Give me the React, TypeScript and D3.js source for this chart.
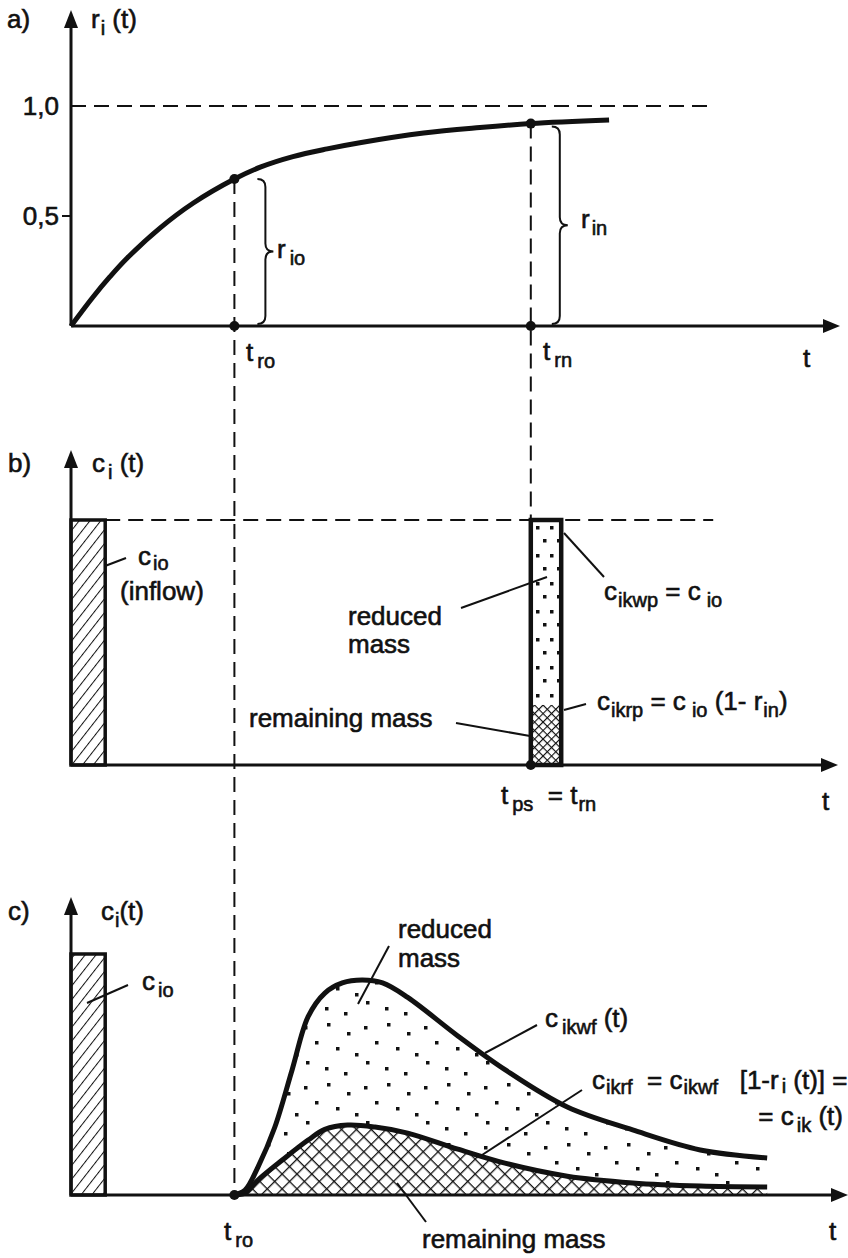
import React from 'react';
import * as d3 from 'd3';

// time axis (arbitrary units) and the two marked instants
const T_DOMAIN = [0, 100];
const T_RO = 21.5;
const T_RN = 60.5;

// a) removal ratio r_i(t)
const rCurve: [number, number][] = [
  [0, 0], [2.9, 0.132], [5.1, 0.223], [7.4, 0.309], [11.7, 0.445], [16.1, 0.559],
  [21.5, 0.668], [24.9, 0.722], [29.2, 0.77], [33.7, 0.805], [38.0, 0.833],
  [46.4, 0.877], [53.8, 0.902], [60.5, 0.92], [70.8, 0.936],
];
const rTickValues = [0.5, 1.0];
const rTickLabels = ['0,5', '1,0'];
const R_LIMIT_END = 84.5;

// b) pulse: inflow c_io and the split at t_ps = t_rn
const C_IO = 1;
const INFLOW_WIDTH = 4.5;
const PULSE_WIDTH = 4;
const PULSE_REMAINING = 0.245;

// c) continuous inflow response
const cikwfCurve: [number, number][] = [
  [21.5, 0], [22.9, 0.02], [24.6, 0.116], [26.8, 0.28], [29.1, 0.52], [31.2, 0.74],
  [33.4, 0.838], [35.7, 0.88], [38.3, 0.892], [41.0, 0.88], [44.3, 0.82], [50.9, 0.66],
  [57.1, 0.52], [65.3, 0.365], [73.9, 0.27], [82.8, 0.187], [91.6, 0.154],
];
const cikrfCurve: [number, number][] = [
  [21.5, 0], [22.9, 0.008], [24.6, 0.062], [27.8, 0.145], [31.2, 0.228], [33.4, 0.272],
  [36.4, 0.29], [40.0, 0.282], [44.3, 0.257], [50.9, 0.19], [57.1, 0.132], [65.3, 0.078],
  [73.9, 0.05], [82.8, 0.037], [91.6, 0.033],
];

// stipple positions inside one 60x60 pattern tile
const stipple: [number, number][] = [
  [4, 6], [27, 3], [47, 12], [15, 21], [36, 27], [55, 33], [6, 41], [25, 47], [44, 52],
];

const INK = '#111';
const FONT = '"Liberation Sans", Arial, Helvetica, sans-serif';

type Part = string | [string, number?, number?];

function Txt({ x, y, parts, anchor = 'start' }: { x: number; y: number; parts: Part[]; anchor?: string }) {
  let low = 0;
  return (
    <text x={x} y={y} textAnchor={anchor} fontSize={26} stroke={INK} strokeWidth={0.6} style={{ whiteSpace: 'pre' }}>
      {parts.map((p, i) => {
        if (typeof p === 'string') {
          const dy = -low;
          low = 0;
          return <tspan key={i} dy={dy}>{p}</tspan>;
        }
        const drop = p[2] ?? 7;
        const dy = drop - low;
        low = drop;
        return <tspan key={i} dy={dy} dx={p[1] ?? 1} fontSize={20}>{p[0]}</tspan>;
      })}
    </text>
  );
}

function arrowUp(x: number, tip: number) {
  return `M${x},${tip} L${x - 7},${tip + 18} L${x + 7},${tip + 18} Z`;
}
function arrowRight(tip: number, y: number) {
  return `M${tip},${y} L${tip - 17},${y - 7} L${tip - 17},${y + 7} Z`;
}
function brace(x: number, y1: number, y2: number, w: number) {
  const ym = (y1 + y2) / 2, q = w / 2;
  return `M${x},${y1} Q${x + q},${y1} ${x + q},${y1 + q} L${x + q},${ym - q} Q${x + q},${ym} ${x + w},${ym}`
    + ` Q${x + q},${ym} ${x + q},${ym + q} L${x + q},${y2 - q} Q${x + q},${y2} ${x},${y2}`;
}

export default function App() {
  const x = d3.scaleLinear().domain(T_DOMAIN).range([71, 831]);
  const yA = d3.scaleLinear().domain([0, 1]).range([326, 106]);
  const yB = d3.scaleLinear().domain([0, C_IO]).range([765, 520]);
  const yC = d3.scaleLinear().domain([0, C_IO]).range([1195, 954]);

  const smooth = d3.curveCatmullRom.alpha(0.5);
  const rLine = d3.line<[number, number]>().x(d => x(d[0])).y(d => yA(d[1])).curve(smooth);
  const cLine = d3.line<[number, number]>().x(d => x(d[0])).y(d => yC(d[1])).curve(smooth);
  const remainingArea = d3.area<[number, number]>()
    .x(d => x(d[0])).y0(yC(0)).y1(d => yC(d[1])).curve(smooth);
  const reducedPath = cLine(cikwfCurve) + ' L' + cLine([...cikrfCurve].reverse())!.slice(1) + ' Z';

  const x0 = x(0);
  const rRo = rCurve.find(d => d[0] === T_RO)![1];
  const rRn = rCurve.find(d => d[0] === T_RN)![1];
  const dash = '15,8';

  return (
    <svg width={848} height={1258} style={{ position: 'absolute', left: 0, top: 0, background: '#fff' }}
      fontFamily={FONT} fill={INK}>
      <defs>
        <pattern id="hatch" patternUnits="userSpaceOnUse" width={8.5} height={8.5} patternTransform="rotate(38)">
          <line x1={0} y1={0} x2={0} y2={8.5} stroke={INK} strokeWidth={2} />
        </pattern>
        <pattern id="cross" patternUnits="userSpaceOnUse" width={10.5} height={10.5} patternTransform="rotate(45)">
          <line x1={0} y1={0} x2={0} y2={10.5} stroke={INK} strokeWidth={2.6} />
          <line x1={0} y1={0} x2={10.5} y2={0} stroke={INK} strokeWidth={2.6} />
        </pattern>
        <pattern id="crossB" patternUnits="userSpaceOnUse" width={6} height={6} patternTransform="rotate(45)">
          <line x1={0} y1={0} x2={0} y2={6} stroke={INK} strokeWidth={2.3} />
          <line x1={0} y1={0} x2={6} y2={0} stroke={INK} strokeWidth={2.3} />
        </pattern>
        <pattern id="dots" patternUnits="userSpaceOnUse" width={60} height={60}>
          {stipple.map(([sx, sy], i) => <rect key={i} x={sx} y={sy} width={3.5} height={3.5} fill={INK} />)}
        </pattern>
        <pattern id="dotsB" patternUnits="userSpaceOnUse" x={533} y={520} width={14} height={28}>
          <rect x={3} y={6} width={3.5} height={3.5} fill={INK} />
          <rect x={10} y={19} width={3.5} height={3.5} fill={INK} />
        </pattern>
      </defs>

      {/* ---------- a) ---------- */}
      <g>
        <line x1={x0} y1={yA(1)} x2={x(R_LIMIT_END)} y2={yA(1)} stroke={INK} strokeWidth={2} strokeDasharray={dash} />
        <line x1={x0} y1={28} x2={x0} y2={yA(0)} stroke={INK} strokeWidth={3} />
        <path d={arrowUp(x0, 10)} />
        <line x1={x0} y1={yA(0)} x2={824} y2={yA(0)} stroke={INK} strokeWidth={3} />
        <path d={arrowRight(840, yA(0))} />
        {rTickValues.map((v, i) => (
          <g key={v}>
            {v < 1 && <line x1={x0 - 9} x2={x0} y1={yA(v)} y2={yA(v)} stroke={INK} strokeWidth={2} />}
            <Txt x={x0 - 12} y={yA(v) + 9} anchor="end" parts={[rTickLabels[i]]} />
          </g>
        ))}
        <path d={rLine(rCurve)!} fill="none" stroke={INK} strokeWidth={5} />
        <path d={brace(x(T_RO) + 23, yA(rRo), yA(0) - 2, 16)} fill="none" stroke={INK} strokeWidth={2} />
        <path d={brace(x(T_RN) + 21, yA(rRn) + 3, yA(0) - 2, 16)} fill="none" stroke={INK} strokeWidth={2} />
        <Txt x={7} y={28} parts={['a)']} />
        <Txt x={91} y={28} parts={['r', ['i'], ' (t)']} />
        <Txt x={277} y={258} parts={['r', ['io', 4]]} />
        <Txt x={581} y={228} parts={['r', ['in', 2]]} />
        <Txt x={246} y={361} parts={['t', ['ro', 4]]} />
        <Txt x={543} y={360} parts={['t', ['rn', 4]]} />
        <Txt x={803} y={367} parts={['t']} />
        <circle cx={x(T_RO)} cy={yA(rRo)} r={5} />
        <circle cx={x(T_RO)} cy={yA(0)} r={5} />
        <circle cx={x(T_RN)} cy={yA(rRn)} r={5} />
        <circle cx={x(T_RN)} cy={yA(0)} r={5} />
      </g>

      {/* dashed projections */}
      <line x1={x(T_RO)} y1={yA(rRo)} x2={x(T_RO)} y2={yC(0)} stroke={INK} strokeWidth={2} strokeDasharray={dash} />
      <line x1={x(T_RN)} y1={yA(rRn)} x2={x(T_RN)} y2={yB(0)} stroke={INK} strokeWidth={2} strokeDasharray={dash} />

      {/* ---------- b) ---------- */}
      <g>
        <line x1={x(INFLOW_WIDTH)} y1={yB(C_IO)} x2={x(R_LIMIT_END)} y2={yB(C_IO)} stroke={INK} strokeWidth={2} strokeDasharray={dash} />
        <line x1={x0} y1={466} x2={x0} y2={yB(0)} stroke={INK} strokeWidth={3} />
        <path d={arrowUp(x0, 450)} />
        <line x1={x0} y1={yB(0)} x2={822} y2={yB(0)} stroke={INK} strokeWidth={3} />
        <path d={arrowRight(838, yB(0))} />
        <rect x={x0} y={yB(C_IO)} width={x(INFLOW_WIDTH) - x0} height={yB(0) - yB(C_IO)}
          fill="url(#hatch)" stroke={INK} strokeWidth={3.5} />
        <rect x={x(T_RN)} y={yB(C_IO)} width={x(T_RN + PULSE_WIDTH) - x(T_RN)} height={yB(PULSE_REMAINING) - yB(C_IO)}
          fill="url(#dotsB)" />
        <rect x={x(T_RN)} y={yB(PULSE_REMAINING)} width={x(T_RN + PULSE_WIDTH) - x(T_RN)} height={yB(0) - yB(PULSE_REMAINING)}
          fill="url(#crossB)" />
        <rect x={x(T_RN)} y={yB(C_IO)} width={x(T_RN + PULSE_WIDTH) - x(T_RN)} height={yB(0) - yB(C_IO)}
          fill="none" stroke={INK} strokeWidth={4.5} />
        {/* leaders */}
        <g stroke={INK} strokeWidth={2}>
          <line x1={105} y1={566} x2={126} y2={558} />
          <line x1={461} y1={608} x2={547} y2={577} />
          <line x1={456} y1={723} x2={530} y2={736} />
          <line x1={564} y1={533} x2={604} y2={577} />
          <line x1={564} y1={710} x2={586} y2={704} />
        </g>
        <Txt x={8} y={472} parts={['b)']} />
        <Txt x={92} y={472} parts={['c', ['i', 3], ' (t)']} />
        <Txt x={138} y={565} parts={['c', ['io', 2, 5]]} />
        <Txt x={120} y={600} parts={['(inflow)']} />
        <Txt x={348} y={625} parts={['reduced']} />
        <Txt x={348} y={653} parts={['mass']} />
        <Txt x={249} y={727} parts={['remaining mass']} />
        <Txt x={604} y={600} parts={['c', ['ikwp', 1], ' = c', ['io', 6]]} />
        <Txt x={597} y={710} parts={['c', ['ikrp', 1], ' = c', ['io', 6], ' (1- r', ['in', 1], ')']} />
        <Txt x={501} y={804} parts={['t', ['ps', 4], '  = t', ['rn', 1]]} />
        <Txt x={822} y={810} parts={['t']} />
        <circle cx={x(T_RN)} cy={yB(0)} r={5} />
      </g>

      {/* ---------- c) ---------- */}
      <g>
        <line x1={x0} y1={913} x2={x0} y2={yC(0)} stroke={INK} strokeWidth={3} />
        <path d={arrowUp(x0, 897)} />
        <rect x={x0} y={yC(C_IO)} width={x(INFLOW_WIDTH) - x0} height={yC(0) - yC(C_IO)}
          fill="url(#hatch)" stroke={INK} strokeWidth={3.5} />
        <path d={reducedPath} fill="url(#dots)" stroke="none" />
        <path d={remainingArea(cikrfCurve)!} fill="url(#cross)" stroke="none" />
        <path d={cLine(cikwfCurve)!} fill="none" stroke={INK} strokeWidth={5} />
        <path d={cLine(cikrfCurve)!} fill="none" stroke={INK} strokeWidth={5} />
        <line x1={x0} y1={yC(0)} x2={832} y2={yC(0)} stroke={INK} strokeWidth={3} />
        <path d={arrowRight(848, yC(0))} />
        <g stroke={INK} strokeWidth={2}>
          <line x1={87} y1={1003} x2={128} y2={985} />
          <line x1={389} y1={946} x2={358} y2={1004} />
          <line x1={537} y1={1025} x2={485} y2={1053} />
          <line x1={582} y1={1090} x2={482} y2={1155} />
          <line x1={397} y1={1183} x2={426} y2={1222} />
        </g>
        <circle cx={x(T_RO)} cy={yC(0)} r={5} />
        <Txt x={8} y={920} parts={['c)']} />
        <Txt x={101} y={920} parts={['c', ['i', 1], '(t)']} />
        <Txt x={142} y={990} parts={['c', ['io', 3]]} />
        <Txt x={398} y={938} parts={['reduced']} />
        <Txt x={398} y={967} parts={['mass']} />
        <Txt x={545} y={1027} parts={['c', ['ikwf', 4], ' (t)']} />
        <Txt x={592} y={1089} parts={['c', ['ikrf', 1, 5], '  = c', ['ikwf', 1, 5], '   [1-r', ['i', 3, 4], ' (t)] =']} />
        <Txt x={843} y={1125} anchor="end" parts={['= c', ['ik', 3], ' (t)']} />
        <Txt x={422} y={1248} parts={['remaining mass']} />
        <Txt x={224} y={1240} parts={['t', ['ro', 4]]} />
        <Txt x={829} y={1240} parts={['t']} />
      </g>
    </svg>
  );
}
